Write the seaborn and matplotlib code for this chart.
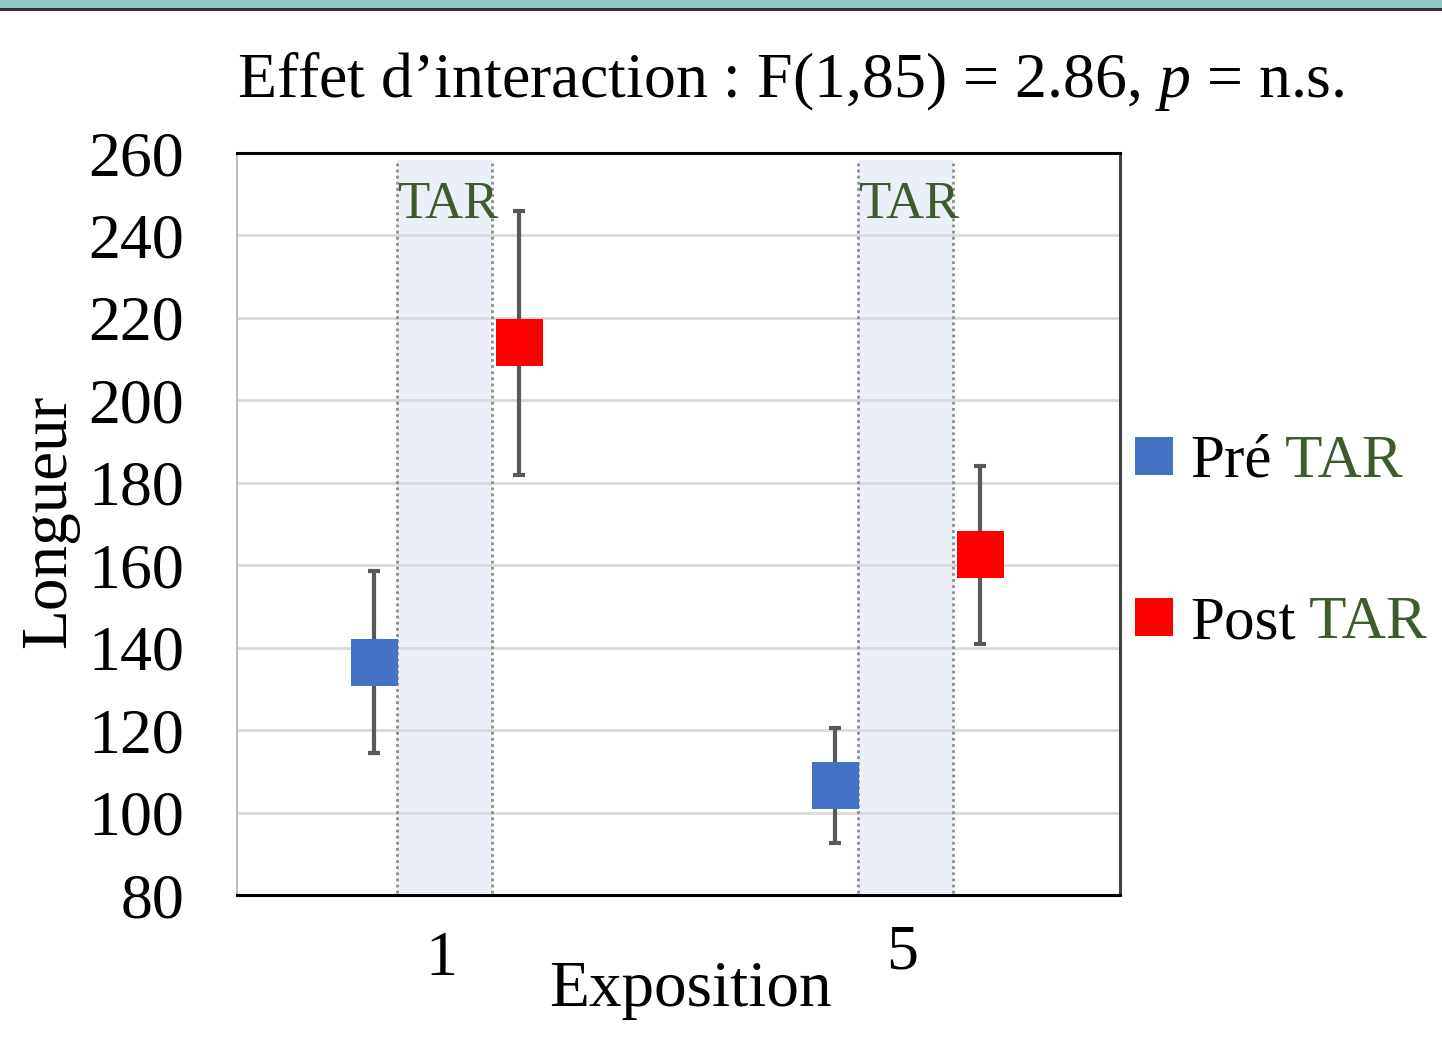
import matplotlib
matplotlib.use("Agg")
import matplotlib.pyplot as plt
import matplotlib.transforms as mtransforms
from matplotlib.patches import Rectangle
import seaborn as sns
import pandas as pd
import numpy as np

# ---- data ----
expositions = ["1", "5"]
phases = ["Pré", "Post"]
pre_mean = [136.5, 106.5]
pre_err = [22, 14]
post_mean = [214, 162.5]
post_err = [32, 21.5]
y_ticks = [80, 100, 120, 140, 160, 180, 200, 220, 240, 260]
title_text = "Effet d’interaction : F(1,85) = 2.86, $p$ = n.s."
band_label = "TAR"

# ---- style ----
sns.set_theme(style="white")
plt.rcParams["font.family"] = ["Liberation Serif", "DejaVu Serif"]
plt.rcParams["mathtext.fontset"] = "custom"
plt.rcParams["mathtext.rm"] = "Liberation Serif"
plt.rcParams["mathtext.it"] = "Liberation Serif:italic"
for k in ["text.color", "axes.labelcolor", "xtick.color", "ytick.color", "xtick.labelcolor", "ytick.labelcolor"]:
    plt.rcParams[k] = "black"

blue = "#4472C4"
red = "#FF0000"
green = "#3D5B2C"
errcol = "#595959"
bandcol = "#EBF0F8"

offsets = {"Pré": -0.145, "Post": 0.17}
band_lo, band_hi = -0.095, 0.11

rows = []
for i, ex in enumerate(expositions):
    rows.append(dict(Exposition=ex, Phase="Pré", pos=i + offsets["Pré"], mean=pre_mean[i], err=pre_err[i]))
    rows.append(dict(Exposition=ex, Phase="Post", pos=i + offsets["Post"], mean=post_mean[i], err=post_err[i]))
df = pd.DataFrame(rows)

fig = plt.figure(figsize=(14.42, 10.37), dpi=100)
ax = fig.add_axes([237 / 1442, 1 - 895 / 1037, 883 / 1442, 742 / 1037])

# top decorative border
fig.add_artist(Rectangle((0, 1 - 8 / 1037), 1, 8 / 1037, transform=fig.transFigure,
                         facecolor="#94C5C5", edgecolor="none", zorder=10))
fig.add_artist(Rectangle((0, 1 - 11 / 1037), 1, 3 / 1037, transform=fig.transFigure,
                         facecolor="#333333", edgecolor="none", zorder=10))

# bands
blend = mtransforms.blended_transform_factory(ax.transData, ax.transAxes)
for i in range(len(expositions)):
    ax.axvspan(i + band_lo, i + band_hi, ymin=0.003, ymax=0.99, color=bandcol, zorder=0.5, lw=0)
    for xv in (i + band_lo, i + band_hi):
        ax.axvline(xv, ymin=0.003, ymax=0.99, color="#8C8C8C", ls=(0, (1, 1.2)), lw=2, zorder=1)
    ax.text(i + band_lo, 0.912, band_label, transform=blend,
            ha="left", va="baseline", fontsize=38, color=green, zorder=3)

# error bars
ax.errorbar(df["pos"], df["mean"], yerr=df["err"], fmt="none", ecolor=errcol,
            elinewidth=3, capsize=4.5, capthick=3, zorder=2)

# points
sns.scatterplot(data=df, x="pos", y="mean", hue="Phase", hue_order=phases,
                palette={"Pré": blue, "Post": red}, marker="s", s=1150,
                linewidth=0, ax=ax, zorder=4, legend=True)

ax.set_xlim((237 - 441) / 461, (1120 - 441) / 461)
ax.set_ylim(80, 260)
ax.set_yticks(y_ticks)
ax.set_yticklabels([str(v) for v in y_ticks])
ax.yaxis.grid(True, color="#D9D9D9", lw=2)
ax.set_axisbelow(True)
ax.tick_params(axis="y", length=0, pad=38, labelsize=46, labelcolor="black")

ax.set_xticks([0])
ax.set_xticklabels([expositions[0]])
ax.set_xticks([1], minor=True)
ax.set_xticklabels([expositions[1]], minor=True)
ax.tick_params(axis="x", which="major", length=0, pad=26, labelsize=46, labelcolor="black")
ax.tick_params(axis="x", which="minor", length=0, pad=21, labelsize=46, labelcolor="black")

for s in ["top", "bottom"]:
    ax.spines[s].set_color("black")
    ax.spines[s].set_linewidth(2.2)
ax.spines["right"].set_color("#404040")
ax.spines["right"].set_linewidth(2.2)
ax.spines["left"].set_color("#BFBFBF")
ax.spines["left"].set_linewidth(1.5)

ax.set_xlabel("Exposition", fontsize=47, color="black")
ax.xaxis.set_label_coords(0.513, -0.128)
ax.xaxis.label.set_va("center")
ax.set_ylabel("Longueur", fontsize=47, color="black")
ax.yaxis.set_label_coords(-0.212, 0.503)
ax.yaxis.label.set_va("center")

fig.text(791 / 1442, 1 - 97 / 1037, title_text, ha="center", va="baseline", fontsize=46, color="black")

# legend
handles, labels = ax.get_legend_handles_labels()
leg = ax.legend(handles, phases, loc="center left", bbox_to_anchor=(1.012, 0.4746),
                frameon=False, fontsize=44, markerscale=0.8, labelspacing=1.73,
                handletextpad=0.22, handlelength=0.75, borderpad=0, borderaxespad=0,
                labelcolor="black")
for t in leg.get_texts():
    ax.annotate(" " + band_label, xy=(1, 0), xycoords=t, ha="left", va="bottom",
                fontsize=44, color=green, annotation_clip=False, zorder=20)

fig.canvas.draw()
fig.savefig("out.png", dpi=100)
